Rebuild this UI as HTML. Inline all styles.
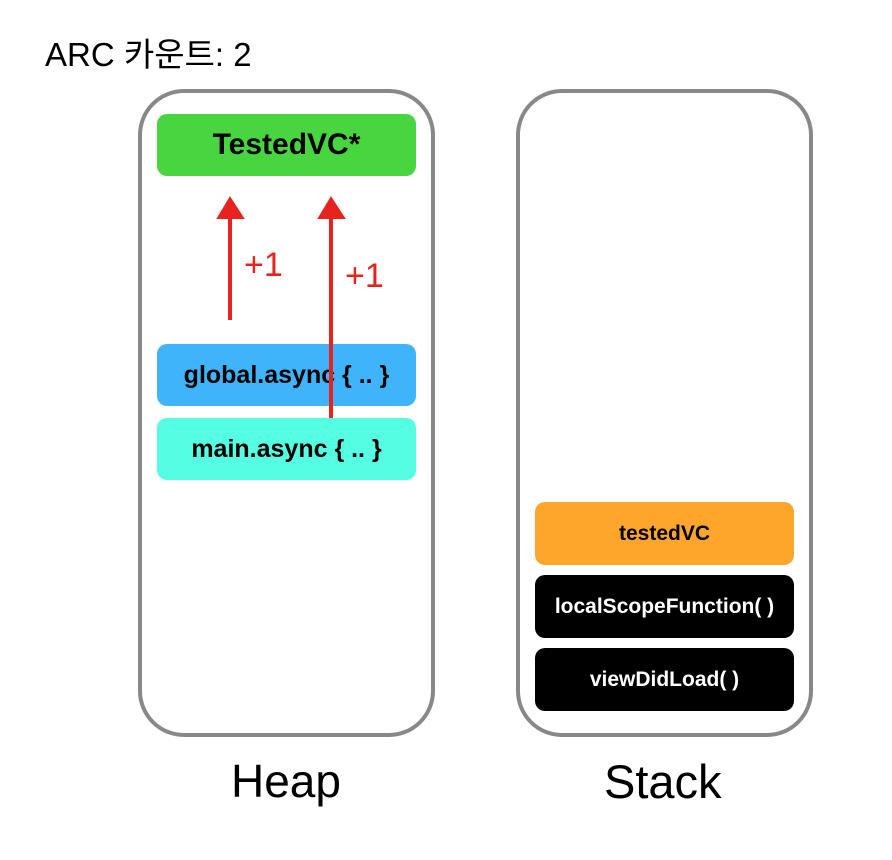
<!DOCTYPE html>
<html><head><style>
body{margin:0;width:892px;height:860px;background:#fff;position:relative;font-family:"Liberation Sans","Noto Sans CJK KR",sans-serif;overflow:hidden}
.c{position:absolute;border:4px solid #888;border-radius:46px;box-sizing:border-box}
.b{position:absolute;border-radius:10px;display:flex;align-items:center;justify-content:center;font-weight:bold;box-sizing:border-box}
.t{position:absolute}
</style></head><body>
<div class="t" style="left:45px;top:28px;font-size:33px">ARC 카운트: 2</div>
<div class="c" style="left:138px;top:89px;width:297px;height:648px"></div>
<div class="c" style="left:516px;top:89px;width:297px;height:648px"></div>
<div class="b" style="left:157px;top:114px;width:259px;height:62px;background:#48d640;font-size:30px">TestedVC*</div>
<div class="b" style="left:157px;top:344px;width:259px;height:62px;background:#3fb4fb;font-size:25px">global.async { .. }</div>
<div class="b" style="left:157px;top:418px;width:259px;height:62px;background:#55fde2;font-size:25px">main.async { .. }</div>
<div class="b" style="left:535px;top:502px;width:259px;height:63px;background:#fea62c;font-size:21px">testedVC</div>
<div class="b" style="left:535px;top:575px;width:259px;height:63px;background:#000;color:#fff;font-size:21px">localScopeFunction( )</div>
<div class="b" style="left:535px;top:648px;width:259px;height:63px;background:#000;color:#fff;font-size:21px">viewDidLoad( )</div>
<svg style="position:absolute;left:0;top:0" width="892" height="860">
<g stroke="#e8231f" stroke-width="4" fill="#e8231f">
<line x1="230" y1="320" x2="230" y2="210"/>
<polygon points="218,218 230,198 243,218" stroke-width="2"/>
<line x1="331" y1="418" x2="331" y2="210"/>
<polygon points="319,218 331,198 344,218" stroke-width="2"/>
</g>
<text x="244" y="276" font-size="34" fill="#e8231f" font-family="Liberation Sans">+1</text>
<text x="345" y="287" font-size="34" fill="#e8231f" font-family="Liberation Sans">+1</text>
</svg>
<div class="t" style="left:231px;top:754px;font-size:46px">Heap</div>
<div class="t" style="left:604px;top:754px;font-size:47px">Stack</div>
</body></html>
